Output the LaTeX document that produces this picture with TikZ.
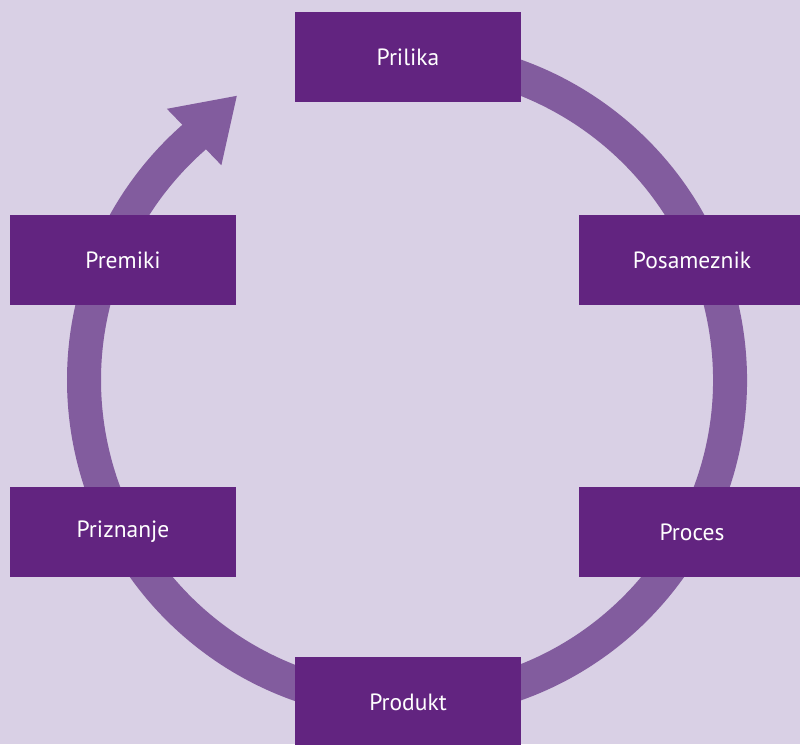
\documentclass[tikz,border=0pt]{standalone}
\usepackage{fontspec}
\setmainfont{PT Sans}
\usetikzlibrary{arrows.meta}
\definecolor{backlilac}{HTML}{D9D0E5}
\definecolor{boxpurple}{HTML}{622480}
\definecolor{ringpurple}{HTML}{825C9E}
\tikzset{
  stage/.style={fill=boxpurple,text=white,minimum width=226pt,minimum height=90pt,
    inner sep=0pt,font=\fontsize{23.5}{28}\selectfont},
  ring/.style={draw=ringpurple,line width=34pt}
}

\begin{document}
\begin{tikzpicture}[x=1pt,y=1pt]
        \fill[backlilac] (0,0) rectangle (800,744);
        \useasboundingbox (0,0) rectangle (800,744);
        \coordinate (hub) at (407,364);
        % ring with arrow, open under Prilika
        \draw[ring,-{Triangle[width=74pt,length=60pt]}] (hub) ++(100:323) arc[start angle=100,end angle=-228.6,radius=323] -- ++(44:61pt);
        \node[stage] (prilika) at (408,687) {Prilika};
        \node[stage] (posameznik) at (692,484) {Posameznik};
        \node[stage] (proces) at (692,212) {Proces};
        \node[stage] (produkt) at (408,42) {Produkt};
        \node[stage] (priznanje) at (123,212) {Priznanje};
        \node[stage] (premiki) at (123,484) {Premiki};
      \end{tikzpicture}
\end{document}
